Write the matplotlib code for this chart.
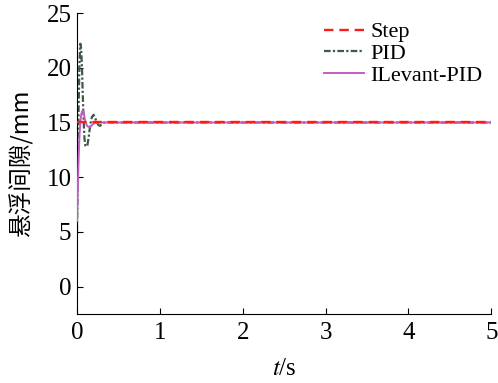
import matplotlib
matplotlib.use("Agg")
import matplotlib.pyplot as plt
import numpy as np

# Data
step_t = [0.0, 5.0]
step_y = [15.0, 15.0]

pid_t = [0.0, 0.01, 0.02, 0.03, 0.04, 0.05, 0.06, 0.07, 0.08, 0.09, 0.10, 0.11, 0.125, 0.14,
         0.16, 0.18, 0.20, 0.22, 0.24, 0.26, 0.28, 0.30, 0.33, 0.36, 0.40, 5.0]
pid_y = [5.0, 10.5, 16.5, 20.5, 22.2, 21.8, 20.0, 17.5, 15.2, 13.6, 12.9, 12.8, 12.9, 13.6,
         14.8, 15.5, 15.7, 15.4, 15.0, 14.75, 14.7, 14.85, 15.0, 15.05, 15.0, 15.0]

ilv_t = [0.0, 0.01, 0.02, 0.03, 0.04, 0.05, 0.06, 0.07, 0.08, 0.09, 0.10, 0.12, 0.14,
         0.16, 0.18, 0.20, 0.24, 0.30, 5.0]
ilv_y = [6.0, 9.0, 11.8, 13.8, 15.0, 15.7, 16.0, 16.1, 15.9, 15.5, 15.1, 14.7, 14.6,
         14.6, 14.75, 14.9, 15.0, 15.0, 15.0]

xticks = [0, 1, 2, 3, 4, 5]
yticks = [0, 5, 10, 15, 20, 25]

plt.rcParams['font.family'] = ['Liberation Serif', 'Noto Sans CJK SC']
plt.rcParams['mathtext.fontset'] = 'stix'

fig = plt.figure(figsize=(4.98, 3.83), dpi=100)
ax = fig.add_axes([0.1546, 0.180, 0.832, 0.786])

ax.plot(pid_t, pid_y, color='#3d5a4c', lw=1.6, ls=(0, (3, 1, 1, 1)), label='PID', zorder=2)
ax.plot(ilv_t, ilv_y, color='#c25ec2', lw=1.4, ls='-', label='ILevant-PID', zorder=3)
ax.plot(step_t, step_y, color='#ff1a1a', lw=1.7, ls=(0, (4, 2.5)), label='Step', zorder=4)

ax.set_xlim(0, 5)
ax.set_ylim(-2.5, 25)
ax.set_xticks(xticks)
ax.set_yticks(yticks)
ax.spines['top'].set_visible(False)
ax.spines['right'].set_visible(False)
ax.tick_params(direction='in', labelsize=18, length=4)
ax.tick_params(axis='x', pad=6)
ax.tick_params(axis='y', pad=4)

ax.set_xlabel('$t$/s', fontsize=18)
ax.set_ylabel('悬浮间隙/mm', fontsize=17, family=['Noto Sans CJK SC'])
ax.xaxis.set_label_coords(0.5, -0.145)
ax.yaxis.set_label_coords(-0.135, 0.5)
ax.yaxis.label.set_va('center')
ax.xaxis.label.set_va('top')

h, l = ax.get_legend_handles_labels()
order = [2, 0, 1]
ax.legend([h[i] for i in order], [l[i] for i in order], loc='upper right',
          frameon=False, fontsize=16, handlelength=1.8, handletextpad=0.3,
          labelspacing=0.05, borderaxespad=0.0, bbox_to_anchor=(1.0, 1.0))

fig.savefig('out.png', dpi=100)
